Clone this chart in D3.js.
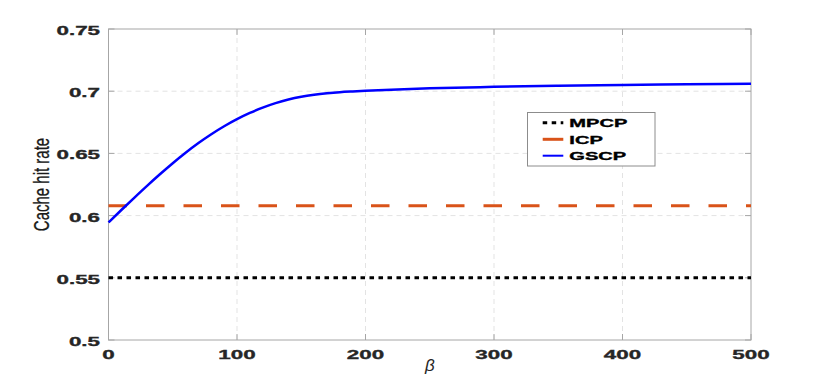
<!DOCTYPE html>
<html><head><meta charset="utf-8">
<script src="https://cdn.jsdelivr.net/npm/d3@7"></script>
<style>html,body{margin:0;padding:0;background:#fff;}svg{display:block;}</style>
</head><body>
<script>
const betaValues = [0,10,20,30,40,50,60,70,80,90,100,110,120,130,140,150,160,170,180,190,200,220,250,300,350,400,450,500];
const gscpValues = [0.5945,0.6045,0.6143,0.6239,0.6332,0.6421,0.6505,0.6583,0.6654,0.6718,0.6775,0.6825,0.6868,0.6904,0.6933,0.6955,0.6971,0.6983,0.6992,0.6998,0.7003,0.7012,0.7023,0.7035,0.7044,0.7050,0.7055,0.7059];
const mpcpValue = 0.55;
const icpValue = 0.608;
const xTicks = [0,100,200,300,400,500];
const yTicks = [0.5,0.55,0.6,0.65,0.7,0.75];
const yTickLabels = ["0.5","0.55","0.6","0.65","0.7","0.75"];
const seriesNames = ["MPCP","ICP","GSCP"];
const seriesColors = ["#000000","#D95319","#0000FF"];

const W=830,H=382;
const L=108.5,R=751,T=29,B=340;
const svg=d3.select("body").append("svg").attr("width",W).attr("height",H);
const x=d3.scaleLinear().domain([0,500]).range([L,R]);
const y=d3.scaleLinear().domain([0.5,0.75]).range([B,T]);

// grid
const g=svg.append("g");
g.selectAll(".gx").data(xTicks.slice(1,-1)).enter().append("line")
 .attr("x1",d=>x(d)).attr("x2",d=>x(d)).attr("y1",T).attr("y2",B)
 .attr("stroke","#e3e3e3").attr("stroke-width",1).attr("stroke-dasharray","5,4");
g.selectAll(".gy").data(yTicks.slice(1,-1)).enter().append("line")
 .attr("y1",d=>y(d)).attr("y2",d=>y(d)).attr("x1",L).attr("x2",R)
 .attr("stroke","#e3e3e3").attr("stroke-width",1).attr("stroke-dasharray","5,4");

// box
svg.append("rect").attr("x",L).attr("y",T).attr("width",R-L).attr("height",B-T)
 .attr("fill","none").attr("stroke","#a6a6a6").attr("stroke-width",1);
const tl=6;
xTicks.forEach(d=>{
  svg.append("line").attr("x1",x(d)).attr("x2",x(d)).attr("y1",B).attr("y2",B-tl).attr("stroke","#a6a6a6");
  svg.append("line").attr("x1",x(d)).attr("x2",x(d)).attr("y1",T).attr("y2",T+tl).attr("stroke","#a6a6a6");
});
yTicks.forEach(d=>{
  svg.append("line").attr("y1",y(d)).attr("y2",y(d)).attr("x1",L).attr("x2",L+tl).attr("stroke","#a6a6a6");
  svg.append("line").attr("y1",y(d)).attr("y2",y(d)).attr("x1",R).attr("x2",R-tl).attr("stroke","#a6a6a6");
});

function stext(px,py,txt,anchor,size,sx,col){
  return svg.append("text").attr("transform",`translate(${px},${py}) scale(${sx},1)`)
   .attr("text-anchor",anchor).attr("font-family","'Liberation Sans',Arial,sans-serif")
   .attr("font-weight","bold").attr("font-size",size).attr("fill",col)
   .attr("stroke",col).attr("stroke-width",0.35).text(txt);
}
yTicks.forEach((d,i)=>stext(L-8.5,y(d)+6,yTickLabels[i],"end",13,1.72,"#262626"));
xTicks.forEach(d=>stext(x(d),358.5,String(d),"middle",13,1.72,"#262626"));

// axis labels
svg.append("text").attr("transform",`translate(49,${(139+230)/2}) rotate(-90) scale(1,1.5)`)
 .attr("text-anchor","middle").attr("font-family","'Liberation Sans',Arial,sans-serif")
 .attr("font-size",15).attr("fill","#1a1a1a").attr("stroke","#1a1a1a").attr("stroke-width",0.2)
 .text("Cache hit rate");
svg.append("text").attr("x",(L+R)/2).attr("y",371).attr("text-anchor","middle")
 .attr("font-family","'Liberation Sans',Arial,sans-serif").attr("font-style","italic")
 .attr("font-size",17).attr("fill","#262626").text("β");

// series
const line=d3.line().x(d=>x(d[0])).y(d=>y(d[1]));
svg.append("path").datum([[0,mpcpValue],[500,mpcpValue]]).attr("d",line)
 .attr("fill","none").attr("stroke",seriesColors[0]).attr("stroke-width",3).attr("stroke-dasharray","4.5,4.5");
svg.append("path").datum([[0,icpValue],[500,icpValue]]).attr("d",line)
 .attr("fill","none").attr("stroke",seriesColors[1]).attr("stroke-width",3).attr("stroke-dasharray","18.5,19");
svg.append("path").datum(betaValues.map((b,i)=>[b,gscpValues[i]]))
 .attr("d",d3.line().x(d=>x(d[0])).y(d=>y(d[1])).curve(d3.curveMonotoneX))
 .attr("fill","none").attr("stroke",seriesColors[2]).attr("stroke-width",2.5);

// legend
const lg=svg.append("g");
lg.append("rect").attr("x",527.5).attr("y",112.5).attr("width",127.5).attr("height",53.5)
 .attr("fill","#fff").attr("stroke","#8c8c8c").attr("stroke-width",1);
const dashes=["4.5,4.5",null,null];
const ly=[122.7,139.3,155.7];
seriesNames.forEach((n,i)=>{
  const l=lg.append("line").attr("x1",542.7).attr("x2",563.3).attr("y1",ly[i]).attr("y2",ly[i])
   .attr("stroke",seriesColors[i]).attr("stroke-width",i==2?2:3);
  if(dashes[i]) l.attr("stroke-dasharray",dashes[i]);
  stext(569.3,ly[i]+4.2,n,"start",11.5,1.75,"#000");
});
</script>
</body></html>
